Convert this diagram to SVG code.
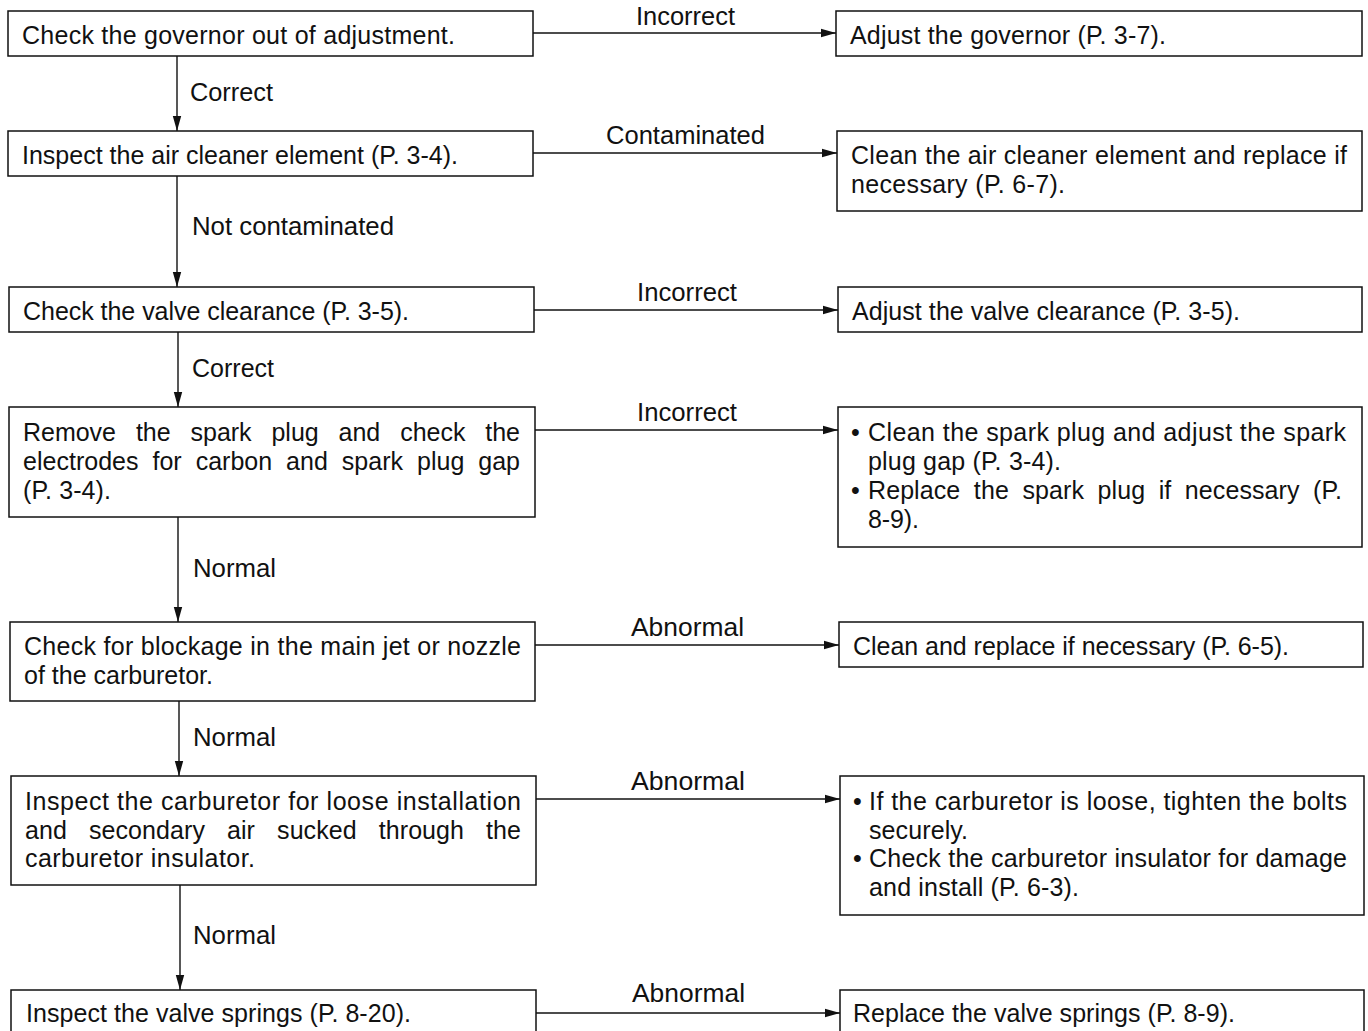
<svg xmlns="http://www.w3.org/2000/svg" width="1368" height="1031" viewBox="0 0 1368 1031">
<defs>
<marker id="ah" markerWidth="16" markerHeight="10" refX="15" refY="5" orient="auto" markerUnits="userSpaceOnUse">
<path d="M0,0.8 L15,5 L0,9.2 Z" fill="#111"/>
</marker>
<style>
.box{fill:#fff;stroke:#111;stroke-width:1.5}
.t{font-family:"Liberation Sans",Arial,Helvetica,sans-serif;font-size:25px;fill:#111}
.c{stroke:#111;stroke-width:1.4;fill:none;marker-end:url(#ah)}
</style>
</defs>
<rect width="1368" height="1031" fill="#fff"/>
<g id="connectors">
<line class="c" x1="177" y1="56" x2="177" y2="131"/>
<line class="c" x1="177" y1="176" x2="177" y2="287"/>
<line class="c" x1="178" y1="332" x2="178" y2="407"/>
<line class="c" x1="178" y1="517" x2="178" y2="622"/>
<line class="c" x1="179" y1="701" x2="179" y2="776"/>
<line class="c" x1="180" y1="885" x2="180" y2="990"/>
<line class="c" x1="533" y1="33" x2="836" y2="33"/>
<line class="c" x1="533" y1="153" x2="837" y2="153"/>
<line class="c" x1="534" y1="310" x2="838" y2="310"/>
<line class="c" x1="535" y1="430" x2="838" y2="430"/>
<line class="c" x1="535" y1="645" x2="839" y2="645"/>
<line class="c" x1="536" y1="799" x2="840" y2="799"/>
<line class="c" x1="536" y1="1013" x2="840" y2="1013"/>
<text class="t" x="190" y="101" textLength="83" lengthAdjust="spacingAndGlyphs">Correct</text>
<text class="t" x="192" y="235" textLength="202" lengthAdjust="spacingAndGlyphs">Not contaminated</text>
<text class="t" x="192" y="377" textLength="82" lengthAdjust="spacingAndGlyphs">Correct</text>
<text class="t" x="193" y="577" textLength="83" lengthAdjust="spacingAndGlyphs">Normal</text>
<text class="t" x="193" y="746" textLength="83" lengthAdjust="spacingAndGlyphs">Normal</text>
<text class="t" x="193" y="944" textLength="83" lengthAdjust="spacingAndGlyphs">Normal</text>
<text class="t" x="636" y="25" textLength="99" lengthAdjust="spacingAndGlyphs">Incorrect</text>
<text class="t" x="606" y="144" textLength="159" lengthAdjust="spacingAndGlyphs">Contaminated</text>
<text class="t" x="637" y="301" textLength="100" lengthAdjust="spacingAndGlyphs">Incorrect</text>
<text class="t" x="637" y="421" textLength="100" lengthAdjust="spacingAndGlyphs">Incorrect</text>
<text class="t" x="631" y="636" textLength="113" lengthAdjust="spacingAndGlyphs">Abnormal</text>
<text class="t" x="631" y="790" textLength="114" lengthAdjust="spacingAndGlyphs">Abnormal</text>
<text class="t" x="632" y="1002" textLength="113" lengthAdjust="spacingAndGlyphs">Abnormal</text>
</g>
<g id="n1"><rect class="box" x="8" y="11" width="525" height="45"/>
<text class="t" x="22" y="44" textLength="433" lengthAdjust="spacing">Check the governor out of adjustment.</text></g>
<g id="n2"><rect class="box" x="8" y="131" width="525" height="45"/>
<text class="t" x="22" y="164" textLength="436" lengthAdjust="spacing">Inspect the air cleaner element (P. 3-4).</text></g>
<g id="n3"><rect class="box" x="9" y="287" width="525" height="45"/>
<text class="t" x="23" y="320" textLength="386" lengthAdjust="spacing">Check the valve clearance (P. 3-5).</text></g>
<g id="n4"><rect class="box" x="9" y="407" width="526" height="110"/>
<text class="t" x="23" y="441" word-spacing="13" textLength="497" lengthAdjust="spacing">Remove the spark plug and check the</text>
<text class="t" x="23" y="470" word-spacing="7" textLength="497" lengthAdjust="spacing">electrodes for carbon and spark plug gap</text>
<text class="t" x="23" y="499" textLength="88" lengthAdjust="spacing">(P. 3-4).</text></g>
<g id="n5"><rect class="box" x="10" y="622" width="525" height="79"/>
<text class="t" x="24" y="655" textLength="497" lengthAdjust="spacing">Check for blockage in the main jet or nozzle</text>
<text class="t" x="24" y="684" textLength="189" lengthAdjust="spacing">of the carburetor.</text></g>
<g id="n6"><rect class="box" x="11" y="776" width="525" height="109"/>
<text class="t" x="25" y="810" textLength="496" lengthAdjust="spacing">Inspect the carburetor for loose installation</text>
<text class="t" x="25" y="839" word-spacing="15" textLength="496" lengthAdjust="spacing">and secondary air sucked through the</text>
<text class="t" x="25" y="867" textLength="230" lengthAdjust="spacing">carburetor insulator.</text></g>
<g id="n7"><rect class="box" x="11" y="990" width="525" height="60"/>
<text class="t" x="26" y="1022" textLength="385" lengthAdjust="spacing">Inspect the valve springs (P. 8-20).</text></g>
<g id="r1"><rect class="box" x="836" y="11" width="526" height="45"/>
<text class="t" x="850" y="44" textLength="316" lengthAdjust="spacing">Adjust the governor (P. 3-7).</text></g>
<g id="r2"><rect class="box" x="837" y="131" width="525" height="80"/>
<text class="t" x="851" y="164" textLength="496" lengthAdjust="spacing">Clean the air cleaner element and replace if</text>
<text class="t" x="851" y="193" textLength="214" lengthAdjust="spacing">necessary (P. 6-7).</text></g>
<g id="r3"><rect class="box" x="838" y="287" width="524" height="45"/>
<text class="t" x="852" y="320" textLength="388" lengthAdjust="spacing">Adjust the valve clearance (P. 3-5).</text></g>
<g id="r4"><rect class="box" x="838" y="407" width="524" height="140"/>
<text class="t" x="851" y="441">•</text>
<text class="t" x="868" y="441" textLength="478" lengthAdjust="spacing">Clean the spark plug and adjust the spark</text>
<text class="t" x="868" y="470" textLength="193" lengthAdjust="spacing">plug gap (P. 3-4).</text>
<text class="t" x="851" y="499">•</text>
<text class="t" x="868" y="499" word-spacing="6.5" textLength="474" lengthAdjust="spacing">Replace the spark plug if necessary (P.</text>
<text class="t" x="868" y="528" textLength="51" lengthAdjust="spacing">8-9).</text></g>
<g id="r5"><rect class="box" x="839" y="622" width="524" height="45"/>
<text class="t" x="853" y="655" textLength="436" lengthAdjust="spacing">Clean and replace if necessary (P. 6-5).</text></g>
<g id="r6"><rect class="box" x="840" y="776" width="524" height="139"/>
<text class="t" x="853" y="810">•</text>
<text class="t" x="869" y="810" textLength="478" lengthAdjust="spacing">If the carburetor is loose, tighten the bolts</text>
<text class="t" x="869" y="839" textLength="99" lengthAdjust="spacing">securely.</text>
<text class="t" x="853" y="867">•</text>
<text class="t" x="869" y="867" textLength="478" lengthAdjust="spacing">Check the carburetor insulator for damage</text>
<text class="t" x="869" y="896" textLength="210" lengthAdjust="spacing">and install (P. 6-3).</text></g>
<g id="r7"><rect class="box" x="840" y="990" width="524" height="60"/>
<text class="t" x="853" y="1022" textLength="382" lengthAdjust="spacing">Replace the valve springs (P. 8-9).</text></g>
</svg>
